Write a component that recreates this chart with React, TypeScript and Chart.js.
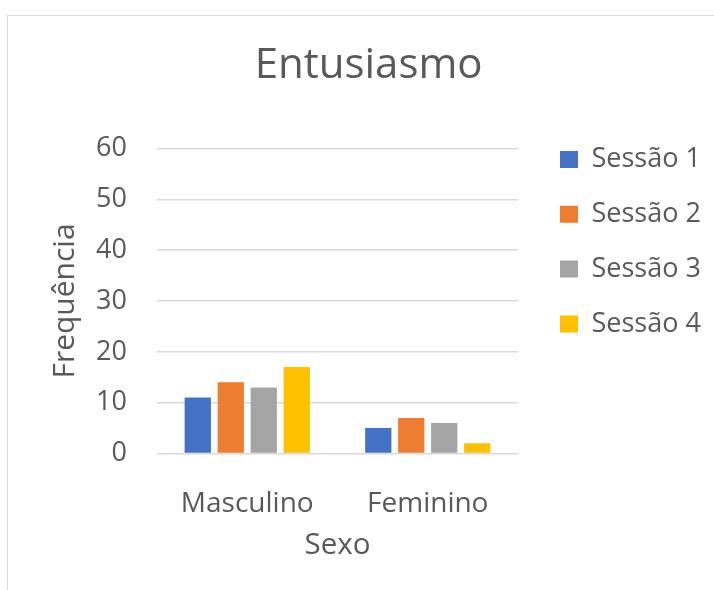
import { useEffect, useRef } from 'react';
import { Chart, registerables } from 'chart.js';

Chart.register(...registerables);

const chartTitle = 'Entusiasmo';
const xTitle = 'Sexo';
const yTitle = 'Frequência';
const categories = ['Masculino', 'Feminino'];
const seriesNames = ['Sessão 1', 'Sessão 2', 'Sessão 3', 'Sessão 4'];
const sessao1 = [11, 5];
const sessao2 = [14, 7];
const sessao3 = [13, 6];
const sessao4 = [17, 2];
const seriesColors = ['#4472C4', '#ED7D31', '#A5A5A5', '#FFC000'];
const yMin = 0;
const yMax = 60;
const yStep = 10;

const TEXT = '#595959';
const GRID = '#d9d9d9';
const FONT = "'Open Sans', 'Noto Sans', sans-serif";

export default function App() {
  const ref = useRef<HTMLCanvasElement | null>(null);

  useEffect(() => {
    if (!ref.current) return;
    const values = [sessao1, sessao2, sessao3, sessao4];
    const chart = new Chart(ref.current, {
      type: 'bar',
      data: {
        labels: categories,
        datasets: seriesNames.map((name, i) => ({
          label: name,
          data: values[i],
          backgroundColor: seriesColors[i],
          borderWidth: 0,
          barPercentage: 0.797,
          categoryPercentage: 0.731,
        })),
      },
      options: {
        animation: false,
        responsive: false,
        devicePixelRatio: 1,
        layout: { padding: { left: 27, right: 11.8, top: 0, bottom: 0 } },
        font: { family: FONT },
        plugins: {
          title: {
            display: true,
            text: chartTitle,
            color: TEXT,
            font: { family: FONT, size: 42, weight: 'normal' },
            padding: { top: 24.8, bottom: 57.3 },
          },
          legend: {
            position: 'right',
            align: 'start',
            maxWidth: 170,
            title: {
              display: true,
              text: ' ',
              font: { family: FONT, size: 10 },
              padding: { top: 90.2, bottom: 0 },
            },
            labels: {
              color: TEXT,
              font: { family: FONT, size: 27 },
              boxWidth: 18,
              boxHeight: 17,
              padding: 27.8,
            },
          },
          tooltip: { enabled: false },
        },
        scales: {
          x: {
            grid: { display: false },
            border: { display: false },
            ticks: {
              color: TEXT,
              font: { family: FONT, size: 28 },
              padding: 25.5,
            },
            title: {
              display: true,
              text: xTitle,
              color: TEXT,
              font: { family: FONT, size: 29.5 },
              padding: { top: 0, bottom: 26.8 },
            },
            afterFit: (s: any) => {
              s.height = 136.5;
            },
          },
          y: {
            min: yMin,
            max: yMax,
            grid: { color: GRID, lineWidth: 1.5, drawTicks: false },
            border: { display: false },
            ticks: {
              stepSize: yStep,
              color: TEXT,
              font: { family: FONT, size: 27 },
              padding: 30,
            },
            title: {
              display: true,
              text: yTitle,
              color: TEXT,
              font: { family: FONT, size: 30 },
              padding: { top: 12.4, bottom: 0 },
            },
            afterFit: (s: any) => {
              s.width = 122;
            },
          },
          yRight: {
            position: 'right',
            display: true,
            grid: { display: false },
            border: { display: false },
            ticks: { display: false },
            afterFit: (s: any) => {
              s.width = 14.2;
            },
          },
        },
      },
    } as any);
    return () => chart.destroy();
  }, []);

  return (
    <div
      style={{
        position: 'fixed',
        left: 0,
        top: 0,
        width: 714,
        height: 590,
        overflow: 'hidden',
        background: '#ffffff',
      }}
    >
      <div
        style={{
          position: 'absolute',
          left: 7,
          top: 15,
          width: 707,
          height: 575,
          boxSizing: 'border-box',
          borderLeft: '1px solid #d9d9d9',
          borderTop: '1px solid #d9d9d9',
        }}
      >
        <canvas ref={ref} width={706} height={574} style={{ display: 'block', width: 706, height: 574 }} />
      </div>
    </div>
  );
}
